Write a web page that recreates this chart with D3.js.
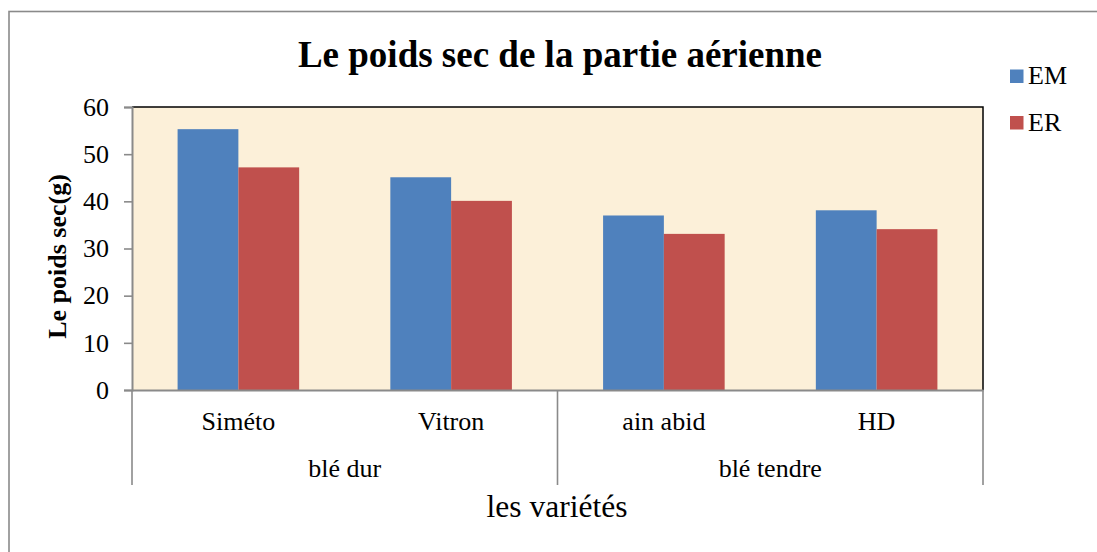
<!DOCTYPE html>
<html>
<head>
<meta charset="utf-8">
<script src="https://cdn.jsdelivr.net/npm/d3@7"></script>
<style>
  html, body { margin: 0; padding: 0; background: #ffffff; }
  svg { display: block; }
  text { font-family: "Liberation Serif", "Times New Roman", serif; fill: #000; }
</style>
</head>
<body>
<svg id="chart" width="1097" height="552"></svg>
<script>
// ---- data ----
const categories = ["Siméto", "Vitron", "ain abid", "HD"];
const groups = [
  { name: "blé dur", members: ["Siméto", "Vitron"] },
  { name: "blé tendre", members: ["ain abid", "HD"] }
];
const seriesNames = ["EM", "ER"];
const valuesEM = [55.3, 45.1, 37.0, 38.1];
const valuesER = [47.2, 40.1, 33.1, 34.1];
const yTicks = [0, 10, 20, 30, 40, 50, 60];
const titleText = "Le poids sec de la partie aérienne";
const yTitle = "Le poids sec(g)";
const xTitle = "les variétés";

const seriesValues = { EM: valuesEM, ER: valuesER };
const colors = { EM: "#4f81bd", ER: "#c0504d" };

// ---- layout ----
const svg = d3.select("#chart");
const plot = { left: 132, right: 983, top: 107, bottom: 390 };

// outer chart border
svg.append("rect")
  .attr("x", 9).attr("y", 11.5)
  .attr("width", 1200).attr("height", 700)
  .attr("fill", "#fff").attr("stroke", "#8a8a8a").attr("stroke-width", 1.6);

const x = d3.scaleBand()
  .domain(categories)
  .range([plot.left, plot.right])
  .paddingInner(1.5 / 3.5)
  .paddingOuter(0.75 / 3.5);
const xs = d3.scaleBand().domain(seriesNames).range([0, x.bandwidth()]);
const y = d3.scaleLinear().domain([0, 60]).range([plot.bottom, plot.top]);

// plot background (parchment)
svg.append("rect")
  .attr("x", plot.left).attr("y", plot.top)
  .attr("width", plot.right - plot.left).attr("height", plot.bottom - plot.top)
  .attr("fill", "#fcf0d9");

// bars
const rows = categories.map((c, i) => ({ cat: c, vals: seriesNames.map(s => ({ s, v: seriesValues[s][i] })) }));
const g = svg.append("g");
rows.forEach(r => {
  r.vals.forEach(d => {
    g.append("rect")
      .attr("x", x(r.cat) + xs(d.s))
      .attr("y", y(d.v))
      .attr("width", xs.bandwidth())
      .attr("height", y(0) - y(d.v))
      .attr("fill", colors[d.s]);
  });
});

// plot border top/right (black)
svg.append("path")
  .attr("d", `M${plot.left},${plot.top}H${plot.right}V${plot.bottom}`)
  .attr("fill", "none").attr("stroke", "#000").attr("stroke-width", 1.5);

// y axis
const yAxis = d3.axisLeft(y).tickValues(yTicks).tickSize(8).tickPadding(15);
const ya = svg.append("g").attr("transform", `translate(${plot.left},0)`).call(yAxis);
ya.select(".domain").attr("stroke", "#8a8a8a").attr("stroke-width", 2);
ya.selectAll(".tick line").attr("stroke", "#8a8a8a").attr("stroke-width", 1.6);
ya.selectAll(".tick text")
  .attr("font-family", "Liberation Serif").attr("font-size", 26).attr("fill", "#000");

// x axis baseline
const xAxis = d3.axisBottom(x).tickSize(0).tickPadding(0).tickFormat(() => "");
const xa = svg.append("g").attr("transform", `translate(0,${plot.bottom})`).call(xAxis);
xa.select(".domain").attr("stroke", "#8a8a8a").attr("stroke-width", 2);

// category labels
svg.append("g").selectAll("text").data(categories).join("text")
  .attr("x", d => x(d) + x.bandwidth() / 2)
  .attr("y", 430)
  .attr("text-anchor", "middle")
  .attr("font-size", 26)
  .text(d => d);

// group separators and labels
const step = x.step();
const groupBounds = groups.map(gr => {
  const first = gr.members[0], last = gr.members[gr.members.length - 1];
  const x0 = x(first) - (step - x.bandwidth()) / 2;
  const x1 = x(last) + x.bandwidth() + (step - x.bandwidth()) / 2;
  return { name: gr.name, x0, x1 };
});
const seps = [groupBounds[0].x0, ...groupBounds.map(b => b.x1)];
svg.append("g").selectAll("line").data(seps).join("line")
  .attr("x1", d => d).attr("x2", d => d)
  .attr("y1", plot.bottom).attr("y2", 485)
  .attr("stroke", "#8a8a8a").attr("stroke-width", 1.6);
svg.append("g").selectAll("text").data(groupBounds).join("text")
  .attr("x", d => (d.x0 + d.x1) / 2)
  .attr("y", 477)
  .attr("text-anchor", "middle")
  .attr("font-size", 26)
  .text(d => d.name);

// titles
svg.append("text")
  .attr("x", 560).attr("y", 67)
  .attr("text-anchor", "middle")
  .attr("font-size", 37).attr("font-weight", "bold")
  .text(titleText);

svg.append("text")
  .attr("x", 557).attr("y", 517)
  .attr("text-anchor", "middle")
  .attr("font-size", 31.5)
  .text(xTitle);

svg.append("text")
  .attr("transform", `translate(66,${(plot.top + plot.bottom) / 2 + 8}) rotate(-90)`)
  .attr("text-anchor", "middle")
  .attr("font-size", 26).attr("font-weight", "bold")
  .text(yTitle);

// legend
const leg = svg.append("g");
seriesNames.forEach((s, i) => {
  const yy = 69.5 + i * 46.5;
  leg.append("rect").attr("x", 1010).attr("y", yy).attr("width", 13.5).attr("height", 13.5).attr("fill", colors[s]);
  leg.append("text").attr("x", 1028).attr("y", yy + 14.5).attr("font-size", 26).text(s);
});
</script>
</body>
</html>
